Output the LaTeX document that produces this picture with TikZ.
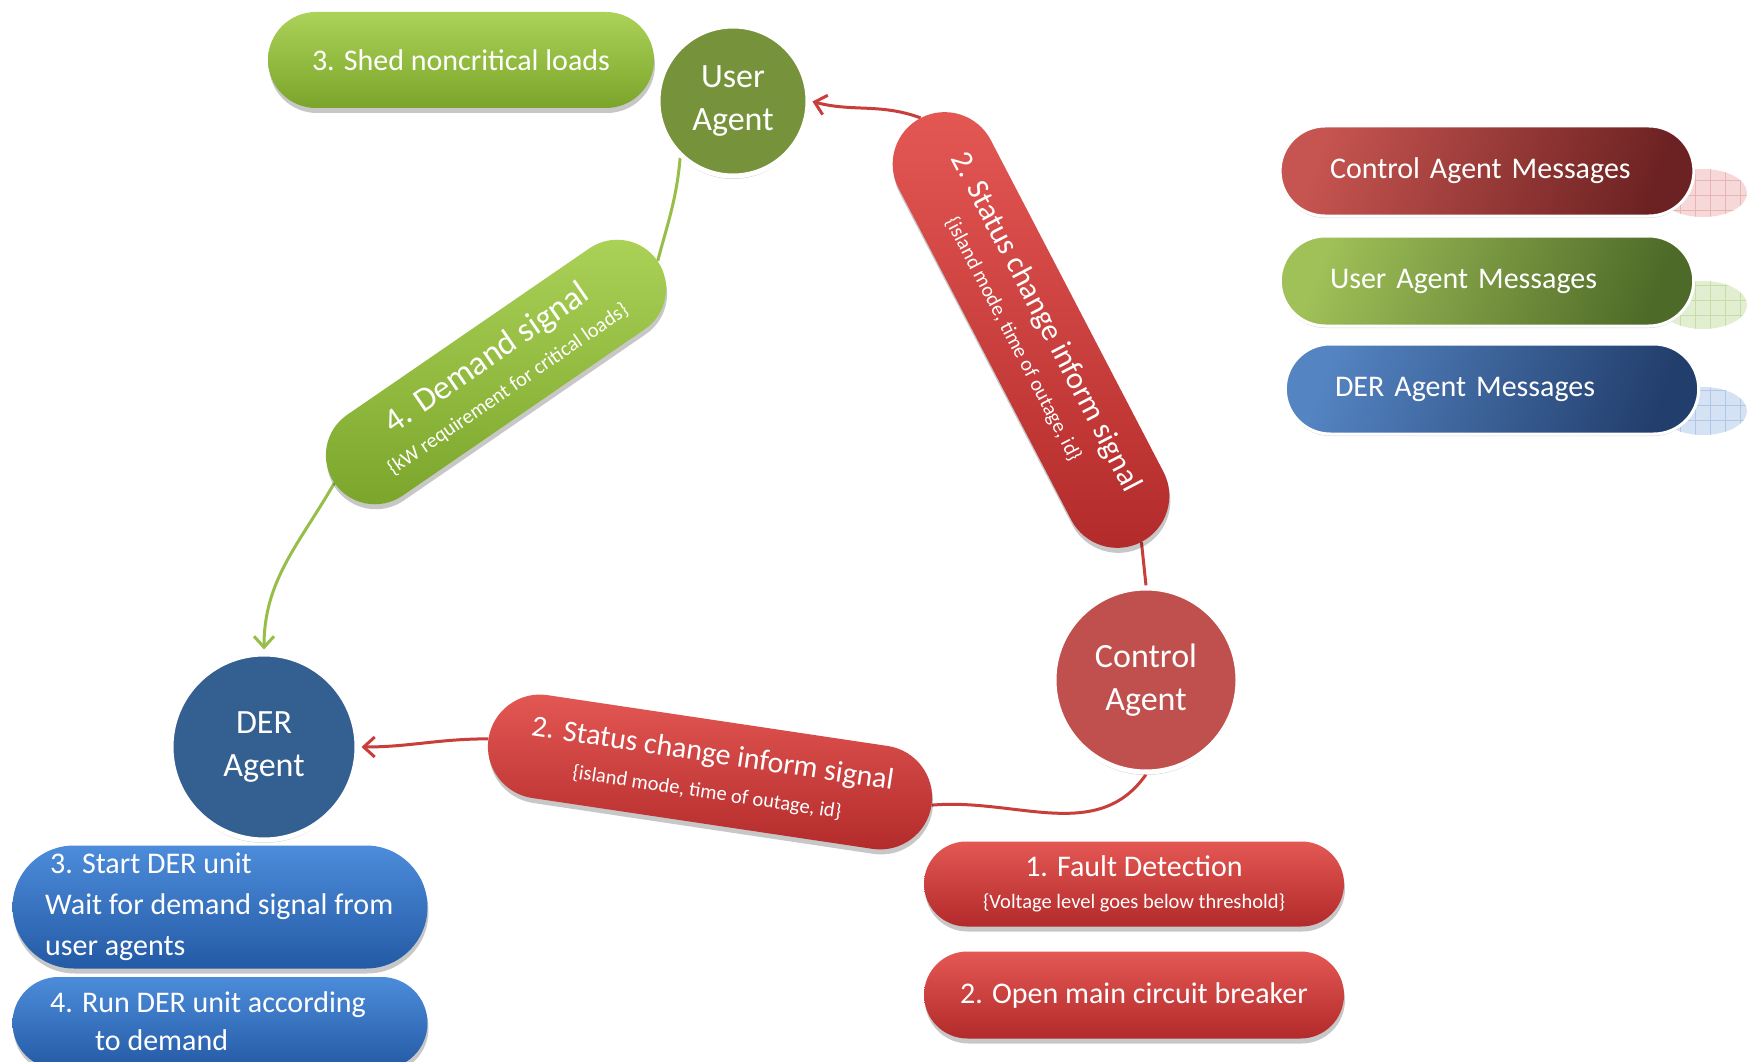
\documentclass[tikz,border=0pt]{standalone}
\usepackage{fontspec}
\setmainfont{Carlito}
\usetikzlibrary{shapes.misc,shadows,arrows.meta}
\pgfdeclarelayer{bg}
\pgfsetlayers{bg,main}

% palette
\definecolor{RedTop}{RGB}{228,88,84}
\definecolor{RedMid}{RGB}{214,62,60}
\definecolor{RedBot}{RGB}{178,42,42}
\definecolor{GreenTop}{RGB}{172,210,88}
\definecolor{GreenMid}{RGB}{152,194,62}
\definecolor{GreenBot}{RGB}{122,165,42}
\definecolor{BlueTop}{RGB}{76,140,218}
\definecolor{BlueMid}{RGB}{58,122,202}
\definecolor{BlueBot}{RGB}{36,90,165}
\definecolor{UserFill}{RGB}{118,146,58}
\definecolor{CtrlFill}{RGB}{192,80,77}
\definecolor{DerFill}{RGB}{52,95,145}
\definecolor{RedLine}{RGB}{200,62,58}
\definecolor{GreenLine}{RGB}{150,190,72}
\definecolor{LegRedA}{RGB}{198,84,80}
\definecolor{LegRedB}{RGB}{108,34,34}
\definecolor{LegGreenA}{RGB}{160,192,88}
\definecolor{LegGreenB}{RGB}{78,106,40}
\definecolor{LegBlueA}{RGB}{84,132,194}
\definecolor{LegBlueB}{RGB}{34,62,108}
\definecolor{PalePink}{RGB}{246,216,216}
\definecolor{GridPink}{RGB}{232,180,180}
\definecolor{PaleGreen}{RGB}{226,238,208}
\definecolor{GridGreen}{RGB}{200,220,170}
\definecolor{PaleBlue}{RGB}{212,226,244}
\definecolor{GridBlue}{RGB}{176,200,232}

\newcommand\fsMain{\fontsize{30pt}{38pt}\selectfont}
\newcommand\fsSub{\fontsize{20.5pt}{24pt}\selectfont}
\newcommand\fsAgent{\fontsize{34pt}{43pt}\selectfont}
\newcommand\fsDemand{\fontsize{34pt}{38pt}\selectfont}

\begin{document}
\begin{tikzpicture}[x=1pt,y=1pt,
  softshadow/.style={drop shadow={shadow xshift=1pt, shadow yshift=-5pt,
      opacity=0.22, fill=black}},
  pill/.style={rounded rectangle, text=white, align=center, inner sep=0pt,
    font=\fsMain, softshadow},
  redpill/.style={pill, top color=RedTop, middle color=RedMid, bottom color=RedBot},
  greenpill/.style={pill, top color=GreenTop, middle color=GreenMid, bottom color=GreenBot},
  bluepill/.style={pill, top color=BlueTop, middle color=BlueMid, bottom color=BlueBot},
  legpill/.style={rounded rectangle, draw=white, line width=3pt, text=white,
    align=left, text width=314pt, inner xsep=48pt, inner ysep=0pt,
    minimum height=90pt, font=\fsMain,
    drop shadow={shadow xshift=0pt, shadow yshift=-2pt, opacity=0.15, fill=black}},
  agent/.style={circle, draw=white, line width=5pt, text=white, align=center,
    inner sep=0pt, font=\fsAgent,
    drop shadow={shadow xshift=0pt, shadow yshift=-3pt, opacity=0.18, fill=black}},
  bluetext/.style={text=white, align=left, inner sep=0pt,
    font=\fontsize{30pt}{41pt}\selectfont},
  redline/.style={draw=RedLine, line width=3pt},
  greenline/.style={draw=GreenLine, line width=3pt},
  tip/.style={-{Straight Barb[length=11pt,width=20pt]}, shorten >=2pt}
]
\useasboundingbox (0,-1062) rectangle (1749,0);
\begin{pgfonlayer}{bg}
  \fill[white] (0,-1062) rectangle (1749,0);
\end{pgfonlayer}

% agents
\node[agent, fill=UserFill, minimum size=150pt] (user) at (733,-101) {User\\Agent};
\node[agent, fill=CtrlFill, minimum size=184pt] (ctrl) at (1146,-680) {Control\\Agent};
\node[agent, fill=DerFill, minimum size=186pt] (der) at (264,-747) {DER\\Agent};

% message pills on the links
\node[redpill, rotate=-62.5, minimum width=478pt, minimum height=104pt, font=\fontsize{31pt}{36pt}\selectfont]
  (pillA) at (1031,-330)
  {2. Status change inform signal\\[-2pt]{\fsSub\{island mode, time of outage, id\}}};
\node[greenpill, rotate=34.5, minimum width=392pt, minimum height=98pt, font=\fsDemand]
  (pillG) at (496,-372)
  {4. Demand signal\\[-4pt]{\fsSub\{kW requirement for critical loads\}}};
\node[redpill, rotate=-8.5, minimum width=448pt, minimum height=104pt]
  (pillH) at (710,-772)
  {2. Status change inform signal\\[-2pt]{\fsSub\{island mode, time of outage, id\}}};

% action pills
\node[greenpill, minimum width=386pt, minimum height=96pt] (shed) at (461,-60)
  {3. Shed noncritical loads};
\node[redpill, minimum width=420pt, minimum height=85pt] (fault) at (1134,-884)
  {1. Fault Detection\\[-6pt]{\fsSub\{Voltage level goes below threshold\}}};
\node[redpill, minimum width=420pt, minimum height=87pt] (breaker) at (1134,-995)
  {2. Open main circuit breaker};
\node[bluepill, minimum width=415pt, minimum height=123pt] (start) at (220,-907) {};
\node[bluetext, anchor=west] (starttxt) at (45,-907)
  {\hspace*{5pt}3. Start DER unit\\Wait for demand signal from\\user agents};
\node[bluepill, minimum width=415pt, minimum height=92pt] (run) at (220,-1023) {};
\node[bluetext, anchor=west, font=\fontsize{30pt}{38pt}\selectfont] (runtxt) at (50,-1021)
  {4. Run DER unit according\\\hspace*{45pt}to demand};

% legend: faint gridded ovals behind each entry
\foreach \yy/\pal/\grd in {193/PalePink/GridPink, 305/PaleGreen/GridGreen, 411/PaleBlue/GridBlue}{
  \begin{scope}
    \clip (1703,-\yy) ellipse [x radius=44, y radius=24];
    \fill[\pal] (1650,-\yy-30) rectangle (1750,-\yy+30);
    \draw[\grd, line width=0.8pt] (1650,-\yy-30) grid[step=15pt] (1750,-\yy+30);
  \end{scope}
}
\node[legpill, left color=LegRedA, right color=LegRedB, shading angle=70] (legctrl) at (1487,-171)
  {Control Agent Messages};
\node[legpill, left color=LegGreenA, right color=LegGreenB, shading angle=70] (leguser) at (1487,-281)
  {User Agent Messages};
\node[legpill, left color=LegBlueA, right color=LegBlueB, shading angle=70] (legder) at (1492,-389)
  {DER Agent Messages};

% connectors, drawn beneath the nodes
\begin{pgfonlayer}{bg}
  \draw[redline] (ctrl.north) -- (pillA.east);
  \draw[redline, tip] (pillA.west) to[out=160,in=-15] (user.east);
  \draw[greenline] (user.-133) to[out=-95,in=75] (pillG.east);
  \draw[greenline, tip] (pillG.west) to[out=-120,in=90] (der.north);
  \draw[redline] (ctrl.south) to[out=-125,in=5] (pillH.east);
  \draw[redline, tip] (pillH.west) to[out=180,in=0] (der.east);
\end{pgfonlayer}
\end{tikzpicture}
\end{document}
